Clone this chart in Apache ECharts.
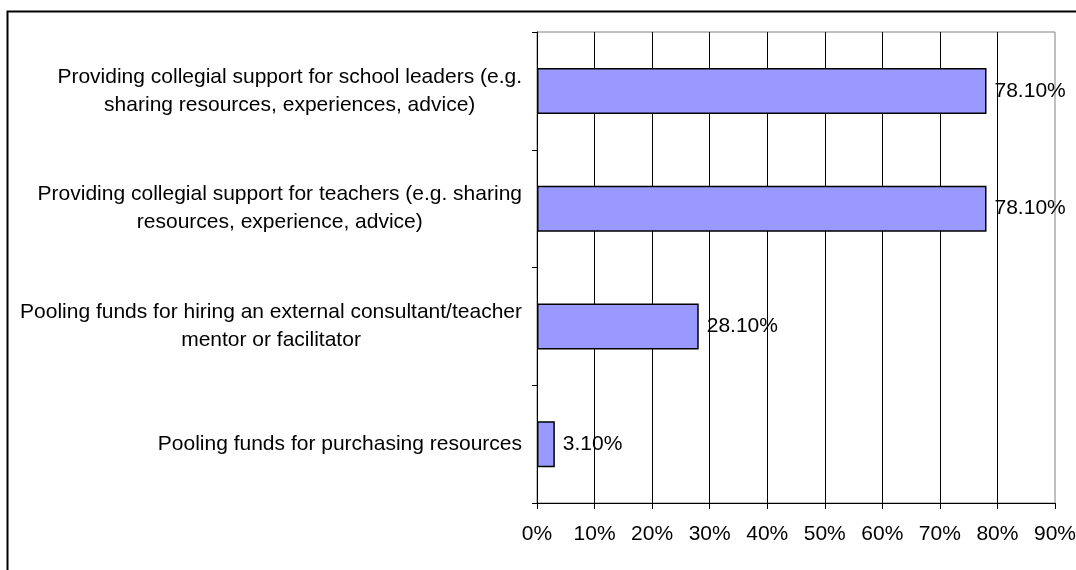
<!DOCTYPE html>
<html>
<head>
<meta charset="utf-8">
<script src="https://cdn.jsdelivr.net/npm/echarts@6/dist/echarts.min.js"></script>
<style>
  html, body { margin: 0; padding: 0; background: #fff; }
  #chart { width: 1076px; height: 570px; }
</style>
</head>
<body>
<div id="chart"></div>
<script>
// categories, top to bottom
const categories = [
  'Providing collegial support for school leaders (e.g.\nsharing resources, experiences, advice)',
  'Providing collegial support for teachers (e.g. sharing\nresources, experience, advice)',
  'Pooling funds for hiring an external consultant/teacher\nmentor or facilitator',
  'Pooling funds for purchasing resources'
];
const values = [78.1, 78.1, 28.1, 3.1];
const xTicks = [0, 90, 10]; // min, max, interval

const font = '"Liberation Sans", Arial, sans-serif';

const chart = echarts.init(document.getElementById('chart'));

const option = {
  animation: false,
  textStyle: { fontFamily: font },
  graphic: [{
    type: 'rect',
    shape: { x: 7.5, y: 11.5, width: 1200, height: 700 },
    style: { fill: 'none', stroke: '#000', lineWidth: 2 },
    silent: true
  }],
  grid: {
    left: 537, right: 21, top: 32, bottom: 67,
    outerBoundsMode: 'none',
    show: true, borderColor: '#808080', borderWidth: 1
  },
  xAxis: {
    type: 'value',
    min: xTicks[0], max: xTicks[1], interval: xTicks[2],
    axisLine: { show: true, lineStyle: { color: '#000', width: 1 } },
    axisTick: { show: true, length: 6, lineStyle: { color: '#000' } },
    splitLine: { show: true, showMaxLine: false, lineStyle: { color: '#000', width: 1 } },
    axisLabel: {
      formatter: '{value}%', color: '#000', fontSize: 21, margin: 21, fontFamily: font
    }
  },
  yAxis: {
    type: 'category',
    inverse: true,
    data: categories,
    axisLine: { show: true, lineStyle: { color: '#000', width: 1 } },
    axisTick: { show: true, length: 5, lineStyle: { color: '#000' } },
    axisLabel: {
      color: '#000', fontSize: 21, margin: 15, lineHeight: 28, fontFamily: font,
      formatter: v => v.split('\n').map(s => '{c|' + s + '}').join('\n'),
      rich: { c: { align: 'center', fontSize: 21, lineHeight: 28, color: '#000', fontFamily: font } }
    }
  },
  series: [{
    type: 'bar',
    data: values,
    barWidth: 46,
    itemStyle: { color: '#9999FF', borderColor: '#000', borderWidth: 1.5 },
    label: {
      show: true, position: 'right', distance: 8,
      color: '#000', fontSize: 21, fontFamily: font,
      formatter: p => p.value.toFixed(2) + '%'
    }
  }]
};

chart.setOption(option);
</script>
</body>
</html>
